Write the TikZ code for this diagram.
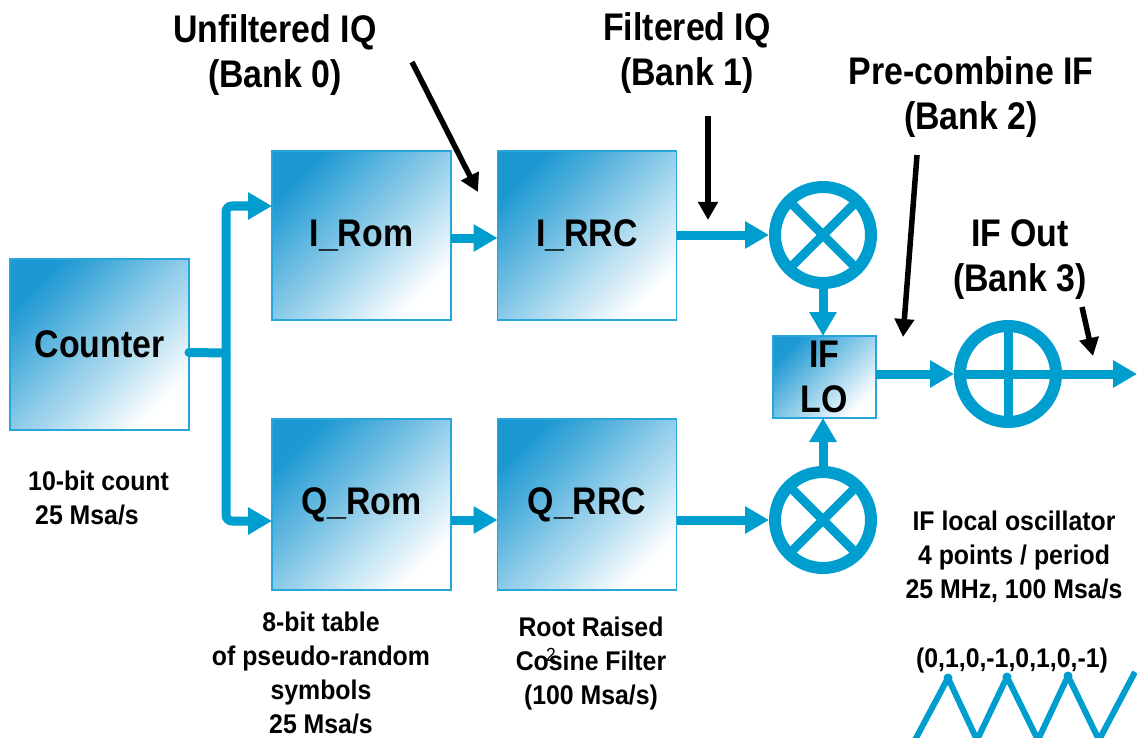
\documentclass[tikz,border=0pt]{standalone}
\usepackage{fontspec}
\setmainfont{Liberation Sans}[FakeStretch=0.92]
\newfontfamily\headfam{Liberation Sans}[FakeStretch=0.88]
\newfontfamily\notefam{Liberation Sans}[FakeStretch=0.92]
\usetikzlibrary{arrows.meta}
\definecolor{wireblue}{RGB}{0,157,207}
\definecolor{boxblue}{RGB}{28,152,210}
\definecolor{boxedge}{RGB}{40,165,218}

\begin{document}
\begin{tikzpicture}[x=1pt,y=-1pt,
  big/.style={font=\headfam\bfseries\fontsize{38.5}{45}\selectfont, align=center, inner sep=0pt},
  small/.style={font=\notefam\bfseries\fontsize{27}{34}\selectfont, inner sep=0pt},
  block/.style={draw=boxedge, line width=1.2pt, inner sep=0pt, outer sep=0pt,
    top color=boxblue, bottom color=white, shading angle=45,
    minimum width=179pt, minimum height=170pt, big},
  mixer/.style={circle, draw=wireblue, line width=12pt, minimum size=96pt,
    inner sep=0pt, outer sep=6pt},
  wirebare/.style={draw=wireblue, line width=9pt},
  wire/.style={wirebare, -{Triangle[length=24pt,width=26pt]}},
  pointer/.style={draw=black, line width=5.5pt, -{Triangle[length=18pt,width=19pt]}},
  zig/.style={draw=wireblue, line width=6pt, line join=round}
]
\useasboundingbox (0,0) rectangle (1137,738);

% processing blocks
\node[block, minimum height=171pt] (counter) at (99.5,344.5) {\raisebox{-3pt}{Counter}};
\node[block, minimum height=169pt] (irom) at (361.5,235.5) {\raisebox{-3pt}{I\_Rom}};
\node[block, minimum height=169pt] (irrc) at (587,235.5) {\raisebox{-3pt}{I\_RRC}};
\node[block, minimum height=171pt] (qrom) at (361.5,504.5) {\raisebox{-3pt}{Q\_Rom}};
\node[block, minimum height=171pt] (qrrc) at (587,504.5) {\raisebox{-3pt}{Q\_RRC}};
\node[block, minimum width=103pt, minimum height=82pt] (iflo) at (824.5,377) {IF\\LO};

% mixers and adder
\node[mixer] (m1) at (823,235) {};
\node[mixer] (m2) at (823,520) {};
\node[mixer] (add) at (1008,374) {};
\draw[wireblue, line width=9pt] (m1.center) +(45:46) -- +(225:46);
\draw[wireblue, line width=9pt] (m1.center) +(135:46) -- +(315:46);
\draw[wireblue, line width=9pt] (m2.center) +(45:46) -- +(225:46);
\draw[wireblue, line width=9pt] (m2.center) +(135:46) -- +(315:46);
\draw[wireblue, line width=9pt] (add.center) +(0,-46) -- +(0,46);

% signal path
\coordinate (split) at (226,353);
\coordinate (ifout) at (1137,374);
\draw[wirebare, line cap=round] ([yshift=-8pt]counter.east) -- (split);
\draw[wire, rounded corners=6pt] (split) |- ([yshift=29.5pt]irom.west);
\draw[wire, rounded corners=6pt] (split) |- ([yshift=-16.5pt]qrom.west);
\draw[wire] ([yshift=-2.5pt]irom.east) -- ([yshift=-2.5pt]irrc.west);
\draw[wire] ([yshift=-15.5pt]qrom.east) -- ([yshift=-15.5pt]qrrc.west);
\draw[wire] (irrc.east |- m1) -- (m1.west);
\draw[wire] (qrrc.east |- m2) -- (m2.west);
\draw[wire] (m1.south) -- (m1.south |- iflo.north);
\draw[wire] (m2.north) -- (m2.north |- iflo.south);
\draw[wire] (iflo.east |- add) -- (add.west);
\draw[wire] (add.west) -- (ifout);

% bank labels and pointers
\node[big] (lab0) at (275,55) {Unfiltered IQ\\(Bank 0)};
\node[big] (lab1) at (687,53.5) {Filtered IQ\\(Bank 1)};
\node[big] (lab2) at (971,97.5) {Pre-combine IF\\(Bank 2)};
\node[big] (lab3) at (1020,260) {IF Out\\(Bank 3)};
\coordinate (p0s) at (412,62);   \coordinate (p0e) at (478,192);
\coordinate (p1s) at (708,116);  \coordinate (p1e) at (708,220);
\coordinate (p2s) at (917,155);  \coordinate (p2e) at (903,337);
\coordinate (p3s) at (1082,307); \coordinate (p3e) at (1093,356);
\draw[pointer] (p0s) -- (p0e);
\draw[pointer] (p1s) -- (p1e);
\draw[pointer] (p2s) -- (p2e);
\draw[pointer] (p3s) -- (p3e);

% notes
\node[small, align=left, anchor=west] (ncount) at (28,498) {10-bit count\\\hspace*{7pt}25 Msa/s};
\node[small, align=center] (ntable) at (321,673) {8-bit table\\of pseudo-random\\symbols\\25 Msa/s};
\node[small, align=center] (nrrc) at (591,664) {Root Raised\\Cosine Filter\\(100 Msa/s)};
\node[font=\fontsize{19}{19}\selectfont, inner sep=0pt] (pagenum) at (551,655) {2};
\node[small, align=center] (nosc) at (1014,557) {IF local oscillator\\4 points / period\\25 MHz, 100 Msa/s};
\node[small] (nseq) at (1012,661) {(0,1,0,-1,0,1,0,-1)};

% LO waveform
\draw[zig] (915,740) -- (948,678) -- (977,740) -- (1007,677) -- (1038,740)
  -- (1068,676) -- (1099,740) -- (1135,672);
\fill[wireblue] (948,678) circle (4.5) (1007,677) circle (4.5) (1068,676) circle (4.5);
\end{tikzpicture}
\end{document}
